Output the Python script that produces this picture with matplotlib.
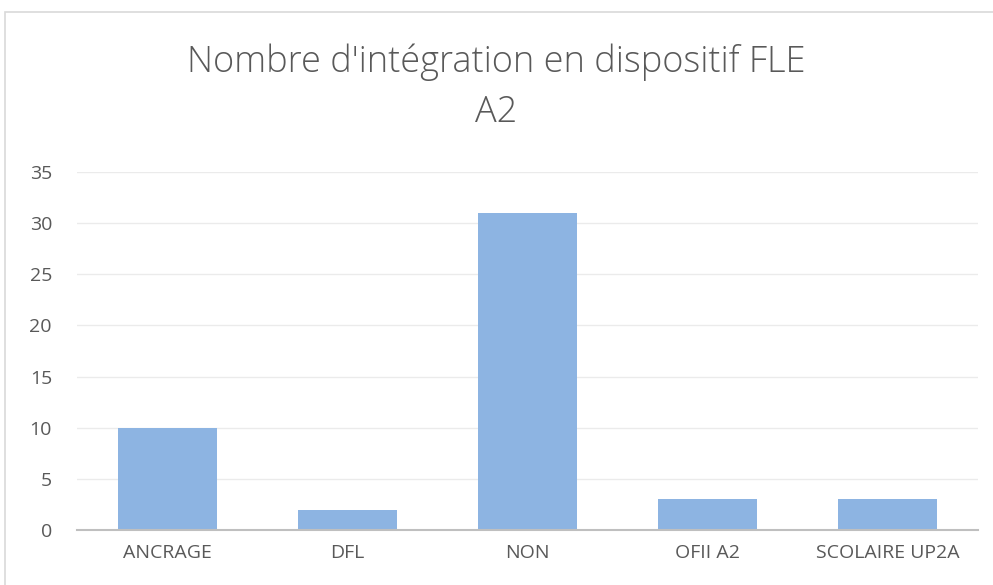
import matplotlib.pyplot as plt
from matplotlib.patches import Rectangle

categories = ["ANCRAGE", "DFL", "NON", "OFII A2", "SCOLAIRE UP2A"]
values = [10, 2, 31, 3, 3]
yticks = [0, 5, 10, 15, 20, 25, 30, 35]

plt.rcParams['font.family'] = ['Open Sans', 'DejaVu Sans']

fig = plt.figure(figsize=(9.93, 5.85), dpi=100)
fig.patch.set_facecolor('white')

# light frame of the chart area
fig.patches.append(Rectangle((5 / 993, -0.1), 1.2, 1 - 12 / 585 + 0.1,
                             transform=fig.transFigure, fill=False,
                             edgecolor='#D9D9D9', linewidth=1.2))

ax = fig.add_axes([77 / 993, 1 - 530 / 585, (978 - 77) / 993, (530 - 172) / 585])
x = range(len(categories))
ax.bar(x, values, width=0.55, color='#8DB4E2', zorder=3)
ax.set_xlim(-0.5, len(categories) - 0.5)
ax.set_ylim(0, 35)
ax.set_yticks(yticks)
ax.set_xticks(list(x))
ax.set_xticklabels(categories)
ax.grid(axis='y', color='#EBEBEB', linewidth=1, zorder=0)
for s in ['top', 'right', 'left']:
    ax.spines[s].set_visible(False)
ax.spines['bottom'].set_color('#BFBFBF')
ax.spines['bottom'].set_linewidth(1.5)
ax.spines['bottom'].set_zorder(4)
ax.tick_params(axis='both', length=0, labelsize=14, labelcolor='#595959')
ax.tick_params(axis='y', pad=18)
ax.tick_params(axis='x', pad=10)

fig.text(0.5, 1 - 62 / 585, "Nombre d'intégration en dispositif FLE", ha='center', va='center',
         fontsize=26, color='#595959', fontweight='light')
fig.text(0.5, 1 - 112 / 585, "A2", ha='center', va='center',
         fontsize=26, color='#595959', fontweight='light')

fig.savefig('out.png', dpi=100)
